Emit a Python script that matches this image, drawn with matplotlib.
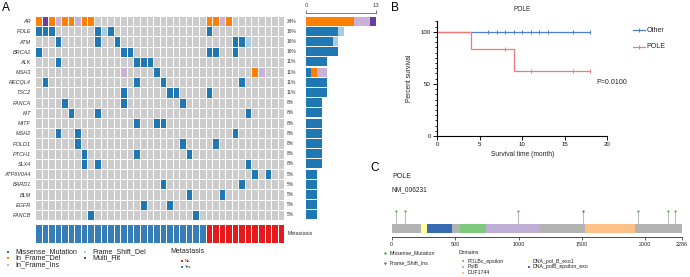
import numpy as np
import matplotlib
matplotlib.use("Agg")
import matplotlib.pyplot as plt
from matplotlib.colors import ListedColormap
import matplotlib.transforms as mtransforms
from matplotlib.ticker import MultipleLocator

plt.rcParams["font.family"] = ["Liberation Sans", "DejaVu Sans"]

W, H = 690, 277

# ---------------- panel A data (oncoplot) ----------------
genes = ["AR", "POLE", "ATM", "BRCA2", "ALK", "MSH3", "RECQL4", "TSC2", "FANCA",
         "KIT", "MITF", "MSH2", "POLD1", "PTCH1", "SLX4", "ATP6V0A4", "BARD1",
         "BLM", "EGFR", "FANCB"]
n_samples = 38

# sample (column) indices carrying each variant class, per gene
missense = {
    "POLE": [0, 1, 2, 9, 11, 26], "ATM": [3, 9, 12, 30, 31],
    "BRCA2": [0, 13, 14, 26, 27, 30], "ALK": [3, 15, 16, 17], "MSH3": [18],
    "RECQL4": [1, 15, 19, 31], "TSC2": [13, 20, 21, 26], "FANCA": [4, 13, 22],
    "KIT": [5, 9, 32], "MITF": [15, 18, 19], "MSH2": [3, 6, 30],
    "POLD1": [6, 22, 27], "PTCH1": [7, 15, 23], "SLX4": [7, 9, 32],
    "ATP6V0A4": [33, 35], "BARD1": [19, 31], "BLM": [23, 28],
    "EGFR": [16, 20], "FANCB": [8, 24],
}
frame_shift_del = {"POLE": [10], "ATM": [32]}
in_frame_del = {"AR": [0, 2, 4, 5, 7, 8, 26, 27, 29], "MSH3": [33]}
in_frame_ins = {"AR": [3, 6, 28], "MSH3": [13, 34]}
multi_hit = {"AR": [1]}

metastasis = ["Yes", "Yes", "Yes", "Yes", "Yes", "Yes", "Yes", "Yes", "Yes", "Yes",
              "Yes", "Yes", "Yes", "Yes", "Yes", "Yes", "Yes", "Yes", "Yes", "Yes",
              "Yes", "Yes", "Yes", "Yes", "Yes", "Yes",
              "No", "No", "No", "No", "No", "No", "No", "No", "No", "No", "No", "No"]

# ---------------- panel B data (Kaplan-Meier) ----------------
pole_time = [4, 8, 9, 11, 16, 18]
pole_event = [1, 0, 1, 0, 0, 0]
other_time = [6, 7, 8, 9, 10, 11, 12, 13, 16, 18]
other_event = [0, 0, 0, 0, 0, 0, 0, 0, 0, 0]
p_value = "P=0.0100"

# ---------------- panel C data (lollipop) ----------------
protein_len = 2286
domain_names = ["POLBc_epsilon", "PolB", "DUF1744", "DNA_pol_B_exo1", "DNA_polB_epsilon_exo"]
domain_start = [540, 745, 1527, 229, 276]
domain_end = [745, 1166, 1915, 276, 473]
mut_pos = [34, 105, 993, 1510, 1939, 2175, 2236]
mut_class = ["Missense_Mutation", "Missense_Mutation", "Missense_Mutation", "Frame_Shift_Ins",
             "Missense_Mutation", "Missense_Mutation", "Missense_Mutation"]
protein_ticks = [0, 500, 1000, 1500, 2000, 2286]

# ---------------- styles ----------------
GRAY = "#CCCCCC"
vc_names = ["Missense_Mutation", "Frame_Shift_Del", "In_Frame_Del", "In_Frame_Ins", "Multi_Hit"]
vc_colors = ["#1F78B4", "#A6CEE3", "#FF7F00", "#CAB2D6", "#6A3D9A"]
META_COL = {"Yes": "#377EB8", "No": "#E41A1C"}
domain_colors = ["#7FC97F", "#BEAED4", "#FDC086", "#FFFF99", "#386CB0"]
lolli_colors = {"Missense_Mutation": "#4DAF4A", "Frame_Shift_Ins": "#7E57C2"}
OTHER_C = "#4F7FCF"
POLE_C = "#F07A7A"
TXT = "#222222"


def px_axes(fig, x0, y0, x1, y1):
    return fig.add_axes([x0 / W, 1 - y1 / H, (x1 - x0) / W, (y1 - y0) / H])


def km_curve(times, events):
    t = np.asarray(times, float)
    e = np.asarray(events)
    at_risk = len(t)
    surv = 100.0
    xs, ys, cx, cy = [0.0], [100.0], [], []
    for ti in np.unique(t):
        mask = t == ti
        d = int(e[mask].sum())
        c = int(mask.sum()) - d
        if d:
            surv *= (at_risk - d) / at_risk
        xs.append(ti)
        ys.append(surv)
        if c:
            cx.append(ti)
            cy.append(surv)
        at_risk -= d + c
    return xs, ys, cx, cy


fig = plt.figure(figsize=(W / 100, H / 100), dpi=100)

# ---------------- A: mutation matrix ----------------
code = np.zeros((len(genes), n_samples))
for k, table in enumerate([missense, frame_shift_del, in_frame_del, in_frame_ins, multi_hit], start=1):
    for g, cols in table.items():
        code[genes.index(g), cols] = k

ax = px_axes(fig, 35, 16, 284.3, 220)
cmap = ListedColormap([GRAY] + vc_colors)
ax.pcolormesh(code, cmap=cmap, vmin=-0.5, vmax=5.5, edgecolors="white", linewidth=0.6)
ax.set_xlim(0, n_samples)
ax.set_ylim(len(genes), 0)
ax.set_xticks([])
ax.set_yticks(np.arange(len(genes)) + 0.5)
ax.set_yticklabels(genes, fontsize=4, fontstyle="italic", color="#333333")
ax.tick_params(axis="y", length=0, pad=3)
for s in ax.spines.values():
    s.set_visible(False)

counts = (code > 0).sum(axis=1)
trans = mtransforms.blended_transform_factory(ax.transAxes, ax.transData)
for i, c in enumerate(counts):
    ax.text(1.011, i + 0.5, f"{round(100 * c / n_samples)}%", transform=trans,
            fontsize=3.5, va="center", ha="left", color="#333333")

# side barplot of mutation counts
axb = px_axes(fig, 306, 16, 375.7, 220)
left = np.zeros(len(genes))
for k, col in enumerate(vc_colors, start=1):
    vals = (code == k).sum(axis=1)
    axb.barh(np.arange(len(genes)) + 0.5, vals, left=left, height=0.9, color=col, linewidth=0)
    left += vals
axb.set_xlim(0, 13)
axb.set_ylim(len(genes), 0)
axb.set_yticks([])
axb.xaxis.tick_top()
axb.set_xticks([0, 13])
axb.tick_params(axis="x", labelsize=4.3, length=2.5, width=0.5, pad=1, colors="#444444")
for side in ["bottom", "left", "right"]:
    axb.spines[side].set_visible(False)
axb.spines["top"].set_position(("outward", 2.5))
axb.spines["top"].set_linewidth(0.5)
axb.spines["top"].set_color("#444444")

# metastasis annotation bar
axm = px_axes(fig, 35, 224, 284.3, 243)
meta_code = np.array([[1 if m == "Yes" else 0 for m in metastasis]])
axm.pcolormesh(meta_code, cmap=ListedColormap([META_COL["No"], META_COL["Yes"]]),
               vmin=-0.5, vmax=1.5, edgecolors="white", linewidth=0.6)
axm.set_xlim(0, n_samples)
axm.set_ylim(0, 1)
axm.axis("off")
axm.text(1.015, 0.5, "Metastasis", transform=axm.transAxes, fontsize=3.8,
         va="center", ha="left", color="#333333")

# ---------------- B: survival ----------------
axk = px_axes(fig, 437.3, 21.3, 607, 136)
for times, events, col in [(other_time, other_event, OTHER_C), (pole_time, pole_event, POLE_C)]:
    xs, ys, cx, cy = km_curve(times, events)
    axk.step(xs, ys, where="post", color=col, linewidth=0.9)
    axk.plot(cx, cy, linestyle="none", marker="|", markersize=3, markeredgewidth=0.7, color=col)
axk.set_xlim(0, 20)
axk.set_ylim(0, 110)
axk.set_xticks([0, 5, 10, 15, 20])
axk.set_yticks([0, 50, 100])
axk.yaxis.set_minor_locator(MultipleLocator(5))
axk.tick_params(axis="both", labelsize=4.4, length=3, width=0.7, pad=1.5, colors="#111111")
axk.tick_params(axis="y", which="minor", length=1.6, width=0.6)
for side in ["top", "right"]:
    axk.spines[side].set_visible(False)
for side in ["left", "bottom"]:
    axk.spines[side].set_linewidth(0.8)
axk.set_xlabel("Survival time (month)", fontsize=4.8, labelpad=3, color=TXT)
axk.set_ylabel("Percent survival", fontsize=4.8, labelpad=6, color=TXT)
axk.set_title("POLE", fontsize=4.7, pad=7.5, color=TXT)

# ---------------- C: lollipop ----------------
axc = px_axes(fig, 391.7, 205, 681.7, 236.7)
axc.set_xlim(0, protein_len)
axc.set_ylim(0, 31.7)
axc.broken_barh([(0, protein_len)], (3.4, 9.3), facecolors="#B3B3B3")
for s, e, col in zip(domain_start, domain_end, domain_colors):
    axc.broken_barh([(s, e - s)], (3.4, 9.3), facecolors=col)
for p, mc in zip(mut_pos, mut_class):
    axc.plot([p, p], [12.7, 26], color="#BDBDBD", linewidth=0.8, zorder=1)
    axc.plot(p, 26, "o", markersize=1.6, color=lolli_colors[mc], markeredgewidth=0, zorder=2)
axc.set_xticks(protein_ticks)
axc.set_yticks([])
axc.tick_params(axis="x", labelsize=3.9, length=2, width=0.5, pad=1.5, colors="#222222")
for side in ["top", "right", "left"]:
    axc.spines[side].set_visible(False)
axc.spines["bottom"].set_linewidth(0.5)

# ---------------- overlay: panel labels and legends ----------------
ov = fig.add_axes([0, 0, 1, 1])
ov.set_xlim(0, W)
ov.set_ylim(H, 0)
ov.axis("off")

ov.text(596.7, 82, p_value, fontsize=5.1, va="center", ha="left", color=TXT)

for lab, (x, y) in zip("ABC", [(2, 8), (391, 8), (370, 168)]):
    ov.text(x, y, lab, fontsize=8.6, va="center", ha="left", color="black")

# A legend
leg_pos = [(8.3, 251.5), (8.3, 258), (8.3, 264.6), (85, 251.5), (85, 258)]
leg_order = ["Missense_Mutation", "In_Frame_Del", "In_Frame_Ins", "Frame_Shift_Del", "Multi_Hit"]
for name, (x, y) in zip(leg_order, leg_pos):
    ov.scatter(x, y, s=3.5, marker="s", color=vc_colors[vc_names.index(name)], linewidths=0)
    ov.text(x + 7.5, y, name, fontsize=5.1, va="center", ha="left", color=TXT)
ov.text(170.7, 251.5, "Metastasis", fontsize=5, va="center", ha="left", color=TXT)
for lab, y in [("No", 260.7), ("Yes", 266.7)]:
    ov.scatter(181.7, y, s=1.8, marker="s", color=META_COL[lab], linewidths=0)
    ov.text(184.5, y, lab, fontsize=3, va="center", ha="left", color=TXT)

# B legend
for name, col, y in [("Other", OTHER_C, 30), ("POLE", POLE_C, 46.7)]:
    ov.plot([633.3, 645], [y, y], color=col, linewidth=0.9)
    ov.plot(639.2, y, marker="|", markersize=3, markeredgewidth=0.7, color=col)
    ov.text(646.5, y, name, fontsize=5, va="center", ha="left", color=TXT)

# C titles and legend
ov.text(392, 177, "POLE", fontsize=5, va="center", ha="left", color=TXT)
ov.text(392, 190, "NM_006231", fontsize=4.8, va="center", ha="left", color=TXT)
for name, y in [("Missense_Mutation", 253.3), ("Frame_Shift_Ins", 263.3)]:
    ov.plot(385, y, "o", markersize=1.8, color=lolli_colors[name], markeredgewidth=0)
    ov.text(390, y, name, fontsize=3.8, va="center", ha="left", color=TXT)
ov.text(459, 252.3, "Domains", fontsize=3.7, va="center", ha="left", color=TXT)
dom_leg = [(463.3, 261), (463.3, 266.7), (463.3, 272.7), (529, 261), (529, 266.7)]
for name, col, (x, y) in zip(domain_names, domain_colors, dom_leg):
    ov.plot(x, y, "s", markersize=1.7, color=col, markeredgewidth=0)
    ov.text(x + 4, y, name, fontsize=3.8, va="center", ha="left", color=TXT)

fig.savefig("out.png", dpi=100, facecolor="white")
